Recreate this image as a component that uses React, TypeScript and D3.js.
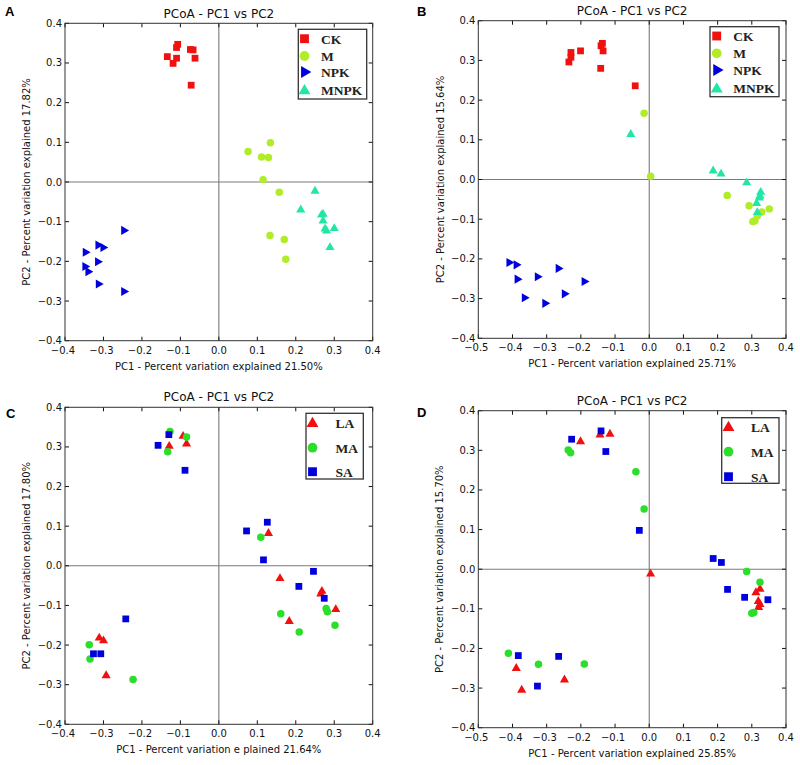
import React from "react";
import * as d3 from "d3";

type Pt = [number, number];

// ---------- Panel A data ----------
const aCK: Pt[] = [[-0.107,0.347],[-0.110,0.339],[-0.074,0.334],[-0.067,0.333],[-0.134,0.316],[-0.110,0.312],[-0.119,0.299],[-0.062,0.312],[-0.072,0.244]];
const aM: Pt[] = [[0.076,0.077],[0.134,0.099],[0.111,0.063],[0.129,0.062],[0.115,0.006],[0.157,-0.026],[0.133,-0.135],[0.170,-0.145],[0.174,-0.195]];
const aNPK: Pt[] = [[-0.247,-0.122],[-0.314,-0.159],[-0.301,-0.165],[-0.347,-0.177],[-0.315,-0.201],[-0.348,-0.213],[-0.340,-0.226],[-0.313,-0.257],[-0.247,-0.276]];
const aMNPK: Pt[] = [[0.250,-0.021],[0.213,-0.068],[0.267,-0.081],[0.271,-0.079],[0.271,-0.096],[0.276,-0.116],[0.280,-0.121],[0.300,-0.115],[0.289,-0.163]];

// ---------- Panel B data ----------
const bCK: Pt[] = [[-0.235,0.296],[-0.229,0.320],[-0.229,0.308],[-0.201,0.324],[-0.137,0.343],[-0.141,0.337],[-0.135,0.324],[-0.142,0.280],[-0.041,0.236]];
const bM: Pt[] = [[-0.015,0.167],[0.004,0.008],[0.228,-0.040],[0.292,-0.066],[0.329,-0.082],[0.351,-0.074],[0.303,-0.106],[0.309,-0.104],[0.316,-0.092]];
const bNPK: Pt[] = [[-0.410,-0.209],[-0.389,-0.215],[-0.386,-0.251],[-0.327,-0.245],[-0.266,-0.224],[-0.190,-0.257],[-0.365,-0.298],[-0.305,-0.312],[-0.248,-0.288]];
const bMNPK: Pt[] = [[-0.054,0.116],[0.187,0.024],[0.210,0.016],[0.285,-0.006],[0.326,-0.030],[0.324,-0.039],[0.322,-0.044],[0.314,-0.058],[0.316,-0.081]];

// ---------- Panel C data ----------
const cLA: Pt[] = [[-0.093,0.329],[-0.084,0.310],[-0.129,0.304],[0.129,0.084],[0.159,-0.030],[0.268,-0.062],[0.265,-0.069],[0.183,-0.138],[0.304,-0.108],[-0.311,-0.180],[-0.300,-0.187],[-0.293,-0.275]];
const cMA: Pt[] = [[-0.127,0.339],[-0.084,0.325],[-0.133,0.288],[0.109,0.072],[0.161,-0.121],[0.209,-0.167],[0.279,-0.108],[0.282,-0.116],[0.302,-0.150],[-0.337,-0.199],[-0.335,-0.235],[-0.223,-0.287]];
const cSA: Pt[] = [[-0.130,0.331],[-0.158,0.304],[-0.088,0.241],[0.072,0.088],[0.126,0.110],[0.116,0.015],[0.246,-0.014],[0.208,-0.052],[0.274,-0.082],[-0.242,-0.134],[-0.326,-0.222],[-0.307,-0.222]];

// ---------- Panel D data ----------
const dLA: Pt[] = [[-0.201,0.324],[-0.144,0.341],[-0.115,0.343],[0.004,-0.010],[0.324,-0.048],[0.312,-0.057],[0.319,-0.079],[0.324,-0.087],[0.320,-0.094],[-0.389,-0.248],[-0.373,-0.303],[-0.248,-0.277]];
const dMA: Pt[] = [[-0.237,0.301],[-0.230,0.294],[-0.039,0.246],[-0.015,0.152],[0.285,-0.006],[0.324,-0.033],[0.300,-0.111],[0.306,-0.109],[-0.412,-0.212],[-0.324,-0.240],[-0.190,-0.239]];
const dSA: Pt[] = [[-0.227,0.328],[-0.141,0.349],[-0.127,0.297],[-0.029,0.098],[0.187,0.027],[0.211,0.017],[0.229,-0.051],[0.279,-0.071],[0.347,-0.077],[-0.383,-0.218],[-0.265,-0.220],[-0.327,-0.295]];

const ticksAC = [-0.4,-0.3,-0.2,-0.1,0,0.1,0.2,0.3,0.4];
const ticksBDx = [-0.5,-0.4,-0.3,-0.2,-0.1,0,0.1,0.2,0.3,0.4];
const ticksY = [-0.4,-0.3,-0.2,-0.1,0,0.1,0.2,0.3,0.4];

type Shape = "square" | "circle" | "triRight" | "triUp";
interface Series { name: string; data: Pt[]; color: string; shape: Shape; }

const RED = "#f01010";
const LIME = "#b0ec28";
const BLUE = "#0000dc";
const TEAL = "#22e6a6";
const GREEN = "#2ade2a";

const seriesA: Series[] = [
  { name: "CK", data: aCK, color: RED, shape: "square" },
  { name: "M", data: aM, color: LIME, shape: "circle" },
  { name: "NPK", data: aNPK, color: BLUE, shape: "triRight" },
  { name: "MNPK", data: aMNPK, color: TEAL, shape: "triUp" },
];
const seriesB: Series[] = [
  { name: "CK", data: bCK, color: RED, shape: "square" },
  { name: "M", data: bM, color: LIME, shape: "circle" },
  { name: "NPK", data: bNPK, color: BLUE, shape: "triRight" },
  { name: "MNPK", data: bMNPK, color: TEAL, shape: "triUp" },
];
const seriesC: Series[] = [
  { name: "LA", data: cLA, color: RED, shape: "triUp" },
  { name: "MA", data: cMA, color: GREEN, shape: "circle" },
  { name: "SA", data: cSA, color: BLUE, shape: "square" },
];
const seriesD: Series[] = [
  { name: "LA", data: dLA, color: RED, shape: "triUp" },
  { name: "MA", data: dMA, color: GREEN, shape: "circle" },
  { name: "SA", data: dSA, color: BLUE, shape: "square" },
];

function symPath(shape: Shape, scale: number) {
  let t: d3.SymbolType = d3.symbolSquare;
  let size = 46;
  if (shape === "circle") { t = d3.symbolCircle; size = 44; }
  if (shape === "triRight" || shape === "triUp") { t = d3.symbolTriangle; size = 36; }
  return d3.symbol().type(t).size(size * scale)() || "";
}

function Marker({ shape, color, x, y, scale = 1 }: { shape: Shape; color: string; x: number; y: number; scale?: number }) {
  const rot = shape === "triRight" ? 90 : 0;
  const dy = shape === "triUp" ? 0.8 : 0;
  return <path d={symPath(shape, scale)} fill={color} transform={`translate(${x},${y + dy}) rotate(${rot})`} />;
}

const fmt = (v: number) => {
  const s = Math.abs(v).toFixed(1);
  return v < -1e-9 ? "\u2212" + s : s;
};

interface PanelProps {
  letter: string; letterX: number; letterY: number;
  left: number; right: number; top: number; bottom: number;
  xTicks: number[]; series: Series[];
  xLabel: string; yLabel: string; yLabelX: number; titleY: number; xLabelY: number;
  legend: { x: number; y: number; w: number; h: number; rows: number[]; mx: number; tx: number };
}

function Panel(p: PanelProps) {
  const x = d3.scaleLinear().domain([p.xTicks[0], p.xTicks[p.xTicks.length - 1]]).range([p.left, p.right]);
  const y = d3.scaleLinear().domain([-0.4, 0.4]).range([p.bottom, p.top]);
  const cx = (p.left + p.right) / 2;
  const cy = (p.top + p.bottom) / 2;
  const tl = 4;
  const font = "'DejaVu Sans', Verdana, sans-serif";
  return (
    <g>
      <text x={p.letterX} y={p.letterY} fontFamily="Liberation Sans, Arial, sans-serif" fontWeight="bold" fontSize={13}>{p.letter}</text>
      <text x={cx} y={p.titleY} textAnchor="middle" fontFamily={font} fontSize={12} fill="#111">PCoA - PC1 vs PC2</text>
      {/* zero lines */}
      <line x1={x(0)} x2={x(0)} y1={p.top} y2={p.bottom} stroke="#7a7a7a" strokeWidth={1.1} />
      <line x1={p.left} x2={p.right} y1={y(0)} y2={y(0)} stroke="#7a7a7a" strokeWidth={1.1} />
      {/* ticks */}
      {p.xTicks.map((t, i) => (
        <g key={"xt" + i}>
          <line x1={x(t)} x2={x(t)} y1={p.bottom} y2={p.bottom - tl} stroke="#111" />
          <line x1={x(t)} x2={x(t)} y1={p.top} y2={p.top + tl} stroke="#111" />
          <text x={x(t) + (t < 0 ? -2 : 0)} y={p.bottom + 13} textAnchor="middle" fontFamily={font} fontSize={10} fill="#111">{fmt(t)}</text>
        </g>
      ))}
      {ticksY.map((t, i) => (
        <g key={"yt" + i}>
          <line x1={p.left} x2={p.left + tl} y1={y(t)} y2={y(t)} stroke="#111" />
          <line x1={p.right} x2={p.right - tl} y1={y(t)} y2={y(t)} stroke="#111" />
          <text x={p.left - 3} y={y(t) + 3.5} textAnchor="end" fontFamily={font} fontSize={10} fill="#111">{fmt(t)}</text>
        </g>
      ))}
      {/* points */}
      {p.series.map((s) => (
        <g key={s.name}>
          {s.data.map((d, i) => (
            <Marker key={i} shape={s.shape} color={s.color} x={x(d[0])} y={y(d[1])} />
          ))}
        </g>
      ))}
      {/* frame */}
      <rect x={p.left} y={p.top} width={p.right - p.left} height={p.bottom - p.top} fill="none" stroke="#333" strokeWidth={1} />
      {/* legend */}
      <rect x={p.legend.x} y={p.legend.y} width={p.legend.w} height={p.legend.h} fill="#fff" stroke="#333" strokeWidth={1.3} />
      {p.series.map((s, i) => (
        <g key={"lg" + s.name}>
          <Marker shape={s.shape} color={s.color} x={p.legend.mx} y={p.legend.rows[i]} scale={1.7} />
          <text x={p.legend.tx} y={p.legend.rows[i] + 5} fontFamily="'Liberation Serif', 'Times New Roman', serif" fontWeight="bold" fontSize={13.5} fill="#222">{s.name}</text>
        </g>
      ))}
      {/* axis labels */}
      <text x={cx} y={p.xLabelY} textAnchor="middle" fontFamily={font} fontSize={10} fill="#111">{p.xLabel}</text>
      <text transform={`translate(${p.yLabelX},${cy}) rotate(-90)`} textAnchor="middle" fontFamily={font} fontSize={10} fill="#111">{p.yLabel}</text>
    </g>
  );
}

export default function App() {
  return (
    <svg width={800} height={765} style={{ position: "absolute", left: 0, top: 0, background: "#fff" }}>
      <rect x={0} y={0} width={800} height={765} fill="#fff" />
      <Panel letter="A" letterX={5} letterY={16} left={65} right={372.7} top={23.3} bottom={340.7}
        xTicks={ticksAC} series={seriesA}
        xLabel="PC1 - Percent variation explained 21.50%" yLabel="PC2 - Percent variation explained 17.82%"
        yLabelX={30} titleY={17.5} xLabelY={369.5}
        legend={{ x: 298.3, y: 29.3, w: 68.4, h: 69.7, rows: [38.7, 56, 72, 90], mx: 304.5, tx: 321 }} />
      <Panel letter="B" letterX={417} letterY={16} left={478.3} right={786} top={20.7} bottom={338.3}
        xTicks={ticksBDx} series={seriesB}
        xLabel="PC1 - Percent variation explained 25.71%" yLabel="PC2 - Percent variation explained 15.64%"
        yLabelX={443.5} titleY={15} xLabelY={366.5}
        legend={{ x: 710, y: 26.7, w: 69, h: 70, rows: [36, 53.3, 70, 88.3], mx: 716.7, tx: 733.3 }} />
      <Panel letter="C" letterX={6} letterY={418} left={65} right={372.7} top={407.3} bottom={724.3}
        xTicks={ticksAC} series={seriesC}
        xLabel="PC1 - Percent variation e  plained 21.64%" yLabel="PC2 - Percent variation explained 17.80%"
        yLabelX={30} titleY={401} xLabelY={753}
        legend={{ x: 306, y: 413.3, w: 57.3, h: 65.7, rows: [422.7, 447.7, 471.7], mx: 312.5, tx: 335.5 }} />
      <Panel letter="D" letterX={417} letterY={417} left={478.3} right={786} top={410.7} bottom={727.7}
        xTicks={ticksBDx} series={seriesD}
        xLabel="PC1 - Percent variation explained 25.85%" yLabel="PC2 - Percent variation explained 15.70%"
        yLabelX={443} titleY={405} xLabelY={756.5}
        legend={{ x: 721.7, y: 417.7, w: 57.3, h: 65.6, rows: [426.7, 451.7, 476.7], mx: 728.5, tx: 751 }} />
    </svg>
  );
}
